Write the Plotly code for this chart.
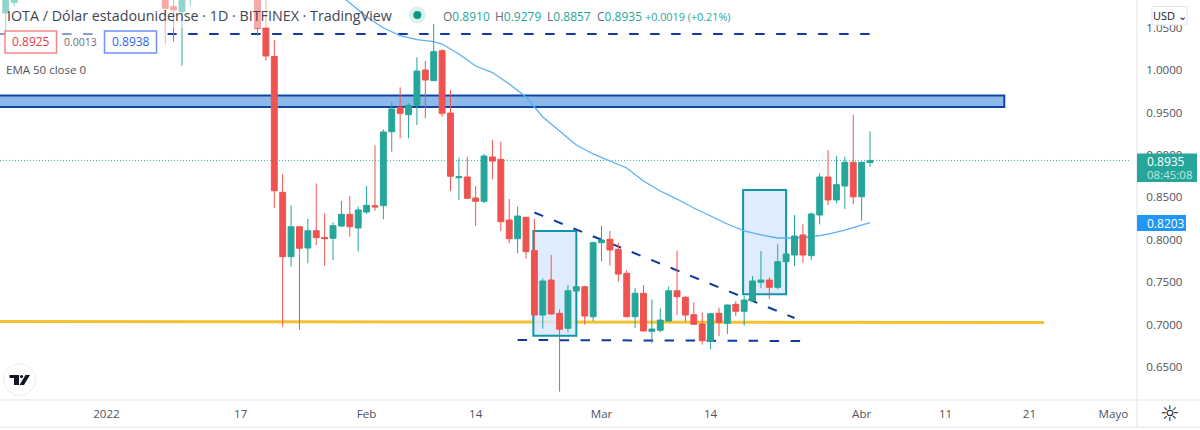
import pandas as pd
import plotly.graph_objects as go

# Daily IOTA/USD candles, Bitfinex
early_dates = ["2021-12-20", "2021-12-21", "2022-01-08", "2022-01-09", "2022-01-10", "2022-01-11"]
early_open = [1.0671, 1.0795, 1.1000, 1.0746, 1.0687, 1.1000]
early_high = [1.1100, 1.1100, 1.1100, 1.0900, 1.1100, 1.1200]
early_low = [1.0436, 1.0746, 1.0306, 1.0333, 1.0051, 1.0754]
early_close = [1.1000, 1.1000, 1.0727, 1.0707, 1.1000, 1.1100]

run_start = "2022-01-19"
run_open = [1.1000, 1.0498, 1.0159, .8559, .7801, .8154, .7903, .8107, .8027, .8018, .8162, .8300, .8139, .8327,
            .8402, .8402, .9273, .9561, .9473, .9584, 1.0000, .9874, 1.0227, .9493, .8731, .8740, .8492, .8453,
            .8975, .8948, .8233, .8013, .8265, .7872, .7114, .7526, .7134, .6958, .7397, .7447, .7094, .7966,
            .8006, .7888, .7605, .7094, .7370, .6922, .6934, .7043, .7400, .7323, .7118, .7008, .6804, .7134,
            .7016, .7240, .7158, .7283, .7499, .7526, .7440, .7742, .7821, .8057, .7813, .8292, .8740, .8469,
            .8634, .8913, .8507, .8910]
run_high = [1.1100, 1.0900, 1.0353, .8775, .8406, .8159, .8245, .8665, .8312, .8206, .8457, .8516, .8392, .8637,
            .9113, .9301, .9620, .9796, .9608, 1.0150, 1.0106, 1.0542, 1.0244, .9764, .8967, .8979, .8634, .9011,
            .9175, .9155, .8480, .8392, .8272, .8245, .7546, .7821, .7181, .7467, .7450, .7459, .7978, .8166,
            .8104, .7966, .7644, .7429, .7467, .7299, .7193, .7447, .7871, .7338, .7264, .7146, .7141, .7200,
            .7240, .7279, .7341, .7573, .7868, .7558, .7950, .7838, .8292, .8182, .8324, .8783, .9058, .8987,
            .8979, .9473, .8918, .9279]
run_low = [1.0404, 1.0110, .8374, .6976, .7683, .6943, .7723, .7939, .7695, .7762, .8154, .8036, .7860, .8304,
           .8343, .8241, .9038, .9196, .9196, .9352, .9431, .9870, .9450, .8575, .8469, .8477, .8162, .8433,
           .8713, .8104, .7959, .7841, .7777, .7108, .6953, .7120, .6211, .6910, .7395, .7000, .7038, .7750,
           .7695, .7506, .7088, .6958, .6920, .6781, .6910, .7035, .7114, .7035, .6999, .6764, .6710, .6867,
           .6890, .7102, .6988, .7271, .7429, .7303, .7417, .7735, .7691, .7730, .7762, .8182, .8406, .8430,
           .8363, .8418, .8225, .8857]
run_close = [1.0491, 1.0165, .8578, .7801, .8154, .7900, .8107, .8025, .8013, .8166, .8300, .8154, .8351, .8406,
             .8386, .9270, .9541, .9490, .9584, .9988, .9882, 1.0216, .9490, .8748, .8743, .8489, .8453, .8987,
             .8928, .8213, .8013, .8280, .7860, .7114, .7515, .7126, .6946, .7400, .7447, .7102, .7966, .7998,
             .7880, .7597, .7094, .7370, .6926, .6949, .7055, .7400, .7330, .7114, .7005, .6811, .7129, .7028,
             .7232, .7158, .7291, .7515, .7526, .7440, .7742, .7833, .8045, .7821, .8304, .8740, .8469, .8649,
             .8913, .8507, .8913, .8935]

# 50-day EMA
ema_dates = ["2022-01-29", "2022-02-01", "2022-02-03", "2022-02-05", "2022-02-07", "2022-02-09", "2022-02-10",
             "2022-02-12", "2022-02-14", "2022-02-16", "2022-02-18", "2022-02-20", "2022-02-22", "2022-02-24",
             "2022-02-26", "2022-02-28", "2022-03-02", "2022-03-04", "2022-03-06", "2022-03-08", "2022-03-10",
             "2022-03-12", "2022-03-14", "2022-03-16", "2022-03-18", "2022-03-20", "2022-03-22", "2022-03-24",
             "2022-03-26", "2022-03-28", "2022-03-30", "2022-04-02"]
ema_values = [1.0872, 1.0628, 1.0495, 1.0406, 1.0359, 1.0333, 1.0306, 1.0189, 1.0047, .9970, .9835, .9682, .9446,
              .9282, .9117, .9011, .8928, .8846, .8692, .8575, .8480, .8374, .8280, .8186, .8104, .8057, .8021,
              .8021, .8033, .8068, .8115, .8203]

# Drawings on the chart
top_level_price = 1.0424
zone_high, zone_low = .9700, .9564
support_left, support_right = .7038, .7026
last_price = .8935
price_ticks = [.65, .70, .75, .80, .85, .90, .95, 1.00, 1.05]
time_tick_dates = ["2022-01-01", "2022-01-17", "2022-02-01", "2022-02-14", "2022-03-01", "2022-03-14",
                   "2022-04-01", "2022-04-11", "2022-04-21", "2022-05-01"]
time_tick_labels = ["2022", "17", "Feb", "14", "Mar", "14", "Abr", "11", "21", "Mayo"]

GREEN, RED = "#26a69a", "#ef5350"
NAVY = "#0f3a9e"
TEAL = "#1196a8"
BOX_FILL = "rgba(216,232,252,0.82)"
TEXT = "#434651"
UI_FONT = "Open Sans"
W_PLOT, H_PLOT = 1137, 400
X_RANGE = ["2021-12-19 07:26", "2022-05-03 19:40"]
Y_RANGE = [0.6113, 1.08245]


def px(x):
    return x / W_PLOT


def py(y):
    return 1 - y / H_PLOT


dates = early_dates + [d.strftime("%Y-%m-%d") for d in pd.date_range(run_start, periods=len(run_open))]

fig = go.Figure()
fig.add_trace(go.Scatter(x=ema_dates, y=ema_values, mode="lines", xaxis="x", yaxis="y",
                         line=dict(color="#5bb0f5", width=1.3), hoverinfo="skip"))
fig.add_trace(go.Candlestick(
    x=dates, xaxis="x2", yaxis="y2",
    open=early_open + run_open, high=early_high + run_high,
    low=early_low + run_low, close=early_close + run_close,
    increasing=dict(line=dict(color=GREEN, width=1), fillcolor=GREEN),
    decreasing=dict(line=dict(color=RED, width=1), fillcolor=RED),
    whiskerwidth=0,
))


def data_line(x0, x1, y0, y1, color, width, dash="solid"):
    return dict(type="line", layer="below", xref="x", yref="y", x0=x0, x1=x1, y0=y0, y1=y1,
                line=dict(color=color, width=width, dash=dash))


def data_rect(x0, x1, y0, y1, fill, color, width):
    return dict(type="rect", layer="below", xref="x", yref="y", x0=x0, x1=x1, y0=y0, y1=y1,
                fillcolor=fill, line=dict(color=color, width=width))


def ui_rect(x0, y0, x1, y1, fill, color="rgba(0,0,0,0)", width=0):
    return dict(type="rect", layer="above", xref="paper", yref="paper", x0=px(x0), x1=px(x1), y0=py(y0), y1=py(y1),
                fillcolor=fill, line=dict(color=color, width=width))


def ui_line(x0, y0, x1, y1, color="#e0e3eb", width=1):
    return dict(type="line", layer="above", xref="paper", yref="paper", x0=px(x0), x1=px(x1), y0=py(y0), y1=py(y1),
                line=dict(color=color, width=width))


def ui_path(points, fill):
    d = "M " + " L ".join(f"{px(a):.5f} {py(b):.5f}" for a, b in points) + " Z"
    return dict(type="path", layer="above", xref="paper", yref="paper", path=d, fillcolor=fill,
                line=dict(width=0, color=fill))


def ui_circle(cx, cy, r, fill, color="rgba(0,0,0,0)", width=0):
    return dict(type="circle", layer="above", xref="paper", yref="paper",
                x0=px(cx - r), x1=px(cx + r), y0=py(cy + r), y1=py(cy - r),
                fillcolor=fill, line=dict(color=color, width=width))


DASH = "9.5px,11.5px"
shapes = [
    data_line(X_RANGE[0], "2022-05-03", last_price, last_price, "rgba(38,166,154,0.9)", 1, "1px,2px"),
    data_rect("2021-12-18", "2022-04-18", zone_low, zone_high, "#8cb9ea", "#0d47a1", 2),
    data_line("2021-12-18", "2022-04-22 18:00", support_left, support_right, "#f4c230", 3),
    data_rect("2022-02-20 21:00", "2022-02-26", .6870, .8104, BOX_FILL, TEAL, 2),
    data_rect("2022-03-17 21:00", "2022-03-23", .7358, .8587, BOX_FILL, TEAL, 2),
    data_line("2021-12-19 05:00", "2022-04-02", top_level_price, top_level_price, NAVY, 2, DASH),
    data_line("2022-02-21", "2022-03-24", .8321, .7079, NAVY, 2, DASH),
    data_line("2022-02-19", "2022-03-24 16:00", .6820, .6808, NAVY, 2, DASH),
    # washed backdrop behind the legend rows
    ui_rect(0, 0, 300, 28, "rgba(255,255,255,0.5)"),
    ui_rect(0, 28, 168, 55, "rgba(255,255,255,0.5)"),
    # bid and ask boxes
    ui_rect(5, 31, 56.5, 53, "white", "#f7868a", 1.5),
    ui_rect(104.5, 31, 156.5, 53, "white", "#6f93fb", 1.5),
    # status dot
    ui_circle(417.3, 15, 8.5, "#dcf1ee"),
    ui_circle(417.3, 15, 4, "#089981"),
    # axis borders
    ui_line(1137, 0, 1137, 427),
    ui_line(0, 400, 1200, 400),
    ui_line(0, 427, 1200, 427),
    # value tags and currency button
    ui_rect(1137, 153.5, 1197, 182, GREEN),
    ui_rect(1137, 215, 1186, 231, "#2196f3"),
    ui_rect(1152, 6.5, 1187, 25, "white", "#e0e3eb", 1),
    # logo badge
    ui_circle(19.5, 379.5, 16, "white", "#ececec", 1),
    ui_path([(9.5, 375), (19, 375), (19, 385), (14, 385), (14, 378), (9.5, 378)], "#131722"),
    ui_circle(21.5, 376.5, 1.6, "#131722"),
    ui_path([(25.5, 375), (30, 375), (24, 385), (19.5, 385)], "#131722"),
]


def label(x, y, text, size=12, color=TEXT, anchor="left", family=UI_FONT):
    return dict(xref="paper", yref="paper", x=px(x), y=py(y), text=text, showarrow=False, xanchor=anchor,
                yanchor="middle", align=anchor, font=dict(family=family, size=size, color=color),
                borderpad=0, borderwidth=0)


def ohlc(letter, value):
    return f"{letter}<span style='color:{GREEN}'>{value}</span>"


annotations = [
    label(7, 15.5, "IOTA / Dólar estadounidense · 1D · BITFINEX · TradingView", 14.3),
    label(443, 16, ohlc("O", "0.8910"), 12, "#6a6d78"),
    label(495, 16, ohlc("H", "0.9279"), 12, "#6a6d78"),
    label(547, 16, ohlc("L", "0.8857"), 12, "#6a6d78"),
    label(597, 16, ohlc("C", "0.8935"), 12, "#6a6d78"),
    label(645, 16, "+0.0019 (+0.21%)", 10.8, GREEN),
    label(31, 42, "0.8925", 12, "#f23645", "center"),
    label(80.5, 42, "0.0013", 10.5, "#6a6d78", "center"),
    label(130.5, 42, "0.8938", 12, "#2962ff", "center"),
    label(6, 69.5, "EMA 50 close 0", 11.5, "#50535e"),
    label(1169.5, 15.5, "USD ⌄", 11, "#131722", "center"),
    label(1146.5, 161, "0.8935", 12, "white"),
    label(1146.5, 174.5, "08:45:08", 11.5, "#bfe6e1"),
    label(1146.5, 223, "0.8203", 12, "white"),
    label(1170, 413, "☼", 22, "#131722", "center", "DejaVu Sans"),
]

axis_font = dict(family=UI_FONT, size=11.6, color="#50535e")
fig.update_layout(
    width=1200, height=430, autosize=False,
    margin=dict(l=0, r=63, t=0, b=30, pad=0),
    paper_bgcolor="white", plot_bgcolor="white",
    showlegend=False, boxgap=0.3, boxgroupgap=0,
    shapes=shapes, annotations=annotations,
    xaxis=dict(type="date", range=X_RANGE, showgrid=False, zeroline=False, showline=False,
               tickmode="array", tickvals=time_tick_dates, ticktext=time_tick_labels,
               ticks="outside", ticklen=3, tickcolor="rgba(0,0,0,0)", tickfont=axis_font, fixedrange=True),
    yaxis=dict(range=Y_RANGE, side="right", showgrid=False, zeroline=False, showline=False,
               tickmode="array", tickvals=price_ticks, ticktext=[f"{v:.4f}" for v in price_ticks],
               ticks="outside", ticklen=6, tickcolor="rgba(0,0,0,0)", tickfont=axis_font, fixedrange=True),
    xaxis2=dict(type="date", range=X_RANGE, overlaying="x", visible=False, rangeslider=dict(visible=False),
                fixedrange=True),
    yaxis2=dict(range=Y_RANGE, overlaying="y", side="right", visible=False, fixedrange=True),
)

fig.write_html("out.html", config=dict(displayModeBar=False))
